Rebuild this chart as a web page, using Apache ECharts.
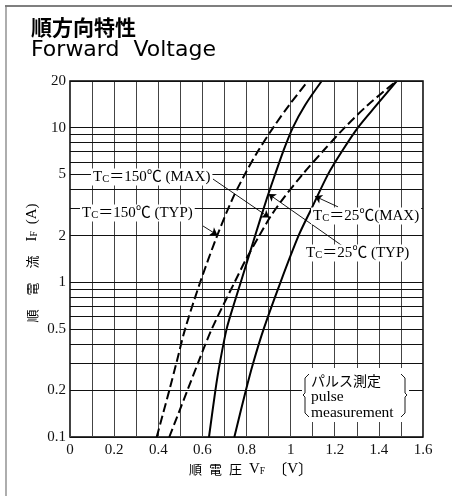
<!DOCTYPE html>
<html>
<head>
<meta charset="utf-8">
<script src="https://cdn.jsdelivr.net/npm/echarts@6/dist/echarts.min.js"></script>
<style>
  html, body { margin: 0; padding: 0; background: #fff; }
  #chart { width: 452px; height: 496px; }
</style>
</head>
<body>
<div id="chart"></div>
<script>
// Forward voltage VF [V] against forward current IF [A]
const tc150TypV = [0.393, 0.450, 0.482, 0.522, 0.590, 0.667, 0.734, 0.793, 0.851, 0.921, 0.994, 1.079];
const tc150TypI = [0.1, 0.2, 0.3, 0.5, 1, 2, 3.4, 5, 7, 10, 14, 20];

const tc150MaxV = [0.450, 0.532, 0.580, 0.643, 0.746, 0.797, 0.858, 0.908, 0.968, 1.055, 1.145, 1.245, 1.350, 1.480];
const tc150MaxI = [0.1, 0.2, 0.3, 0.5, 1, 1.4, 2, 2.65, 3.5, 5, 7, 10, 14, 20];

const tc25TypV = [0.630, 0.659, 0.679, 0.710, 0.740, 0.774, 0.839, 0.890, 0.930, 0.966, 1.010, 1.066, 1.141];
const tc25TypI = [0.1, 0.2, 0.3, 0.5, 0.7, 1, 2, 3.4, 5, 7, 10, 14, 20];

const tc25MaxV = [0.745, 0.797, 0.830, 0.878, 0.954, 1.036, 1.095, 1.170, 1.232, 1.305, 1.390, 1.481];
const tc25MaxI = [0.1, 0.2, 0.3, 0.5, 1, 2, 3, 5, 7, 10, 14, 20];

// Current axis: ruled lines and the values that carry a label
const yGridValues = [0.1, 0.2, 0.3, 0.4, 0.5, 0.6, 0.7, 0.8, 0.9, 1, 2, 3, 4, 5, 6, 7, 8, 9, 10, 20];
const yTickLabels = [0.1, 0.2, 0.5, 1, 2, 5, 10, 20];

// Leader lines from the curve captions to the curves: [VF, IF] start -> end
const leaders = [
  [[0.648, 4.65], [0.903, 2.62]],   // Tc=150°C (MAX)
  [[0.603, 2.31], [0.668, 2.02]],   // Tc=150°C (TYP)
  [[1.215, 3.07], [1.110, 3.60]],   // Tc=25°C (MAX)
  [[1.242, 1.69], [0.900, 3.72]]    // Tc=25°C (TYP)
];

const SERIF = '"Liberation Serif", "Times New Roman", "Noto Sans CJK JP", serif';
const CJK = '"Noto Sans CJK JP", sans-serif';

const pairs = (vs, is) => vs.map((v, i) => [v, is[i]]);

const chart = echarts.init(document.getElementById('chart'), null, { renderer: 'canvas' });

function curve(name, vs, is, dashed) {
  return {
    name: name,
    type: 'line',
    z: 3,
    data: pairs(vs, is),
    showSymbol: false,
    smooth: 0.3,
    silent: true,
    clip: true,
    lineStyle: { color: '#000', width: 2, type: dashed ? [9, 4] : 'solid' }
  };
}

const captionRich = {
  n: { fontSize: 15, fontFamily: SERIF, color: '#000' },
  s: { fontSize: 10.5, fontFamily: SERIF, color: '#000', verticalAlign: 'bottom' }
};

function caption(text, x, y) {
  return {
    type: 'text', x: x, y: y, z: 10,
    style: {
      text: text, rich: captionRich, fill: '#000',
      font: '15px ' + SERIF,
      align: 'left', verticalAlign: 'middle',
      backgroundColor: '#fff', padding: [1, 2, 1, 2]
    }
  };
}

const axisTitleRich = {
  t: { fontSize: 14, fontFamily: SERIF, color: '#000' },
  k: { fontSize: 13, fontFamily: CJK, color: '#000' },
  b: { fontSize: 15, fontFamily: CJK, color: '#000' },
  v: { fontSize: 15, fontFamily: SERIF, color: '#000' },
  s: { fontSize: 9.5, fontFamily: SERIF, color: '#000', verticalAlign: 'bottom' }
};

const option = {
  animation: false,
  backgroundColor: '#fff',
  grid: { left: 70, top: 81, right: 29, bottom: 59, show: true, borderColor: '#000', borderWidth: 1.5, backgroundColor: 'transparent' },
  xAxis: {
    type: 'value', min: 0, max: 1.6, interval: 0.2,
    axisLine: { show: false }, axisTick: { show: false },
    axisLabel: { margin: 6, fontSize: 15, fontFamily: SERIF, color: '#111' },
    splitLine: { show: true, lineStyle: { color: '#444', width: 1 } },
    minorTick: { show: false, splitNumber: 2 },
    minorSplitLine: { show: true, lineStyle: { color: '#444', width: 1 } }
  },
  yAxis: {
    type: 'log', logBase: 10, min: 0.1, max: 20,
    axisLine: { show: false }, axisTick: { show: false },
    axisLabel: { show: false },
    splitLine: { show: false }
  },
  series: [
    {
      name: 'grid',
      type: 'line',
      z: 1,
      data: [],
      silent: true,
      markLine: {
        silent: true,
        symbol: 'none',
        animation: false,
        lineStyle: { color: '#111', width: 1, type: 'solid' },
        label: { show: false },
        data: yGridValues.map(v => ({
          yAxis: v,
          label: {
            show: yTickLabels.includes(v),
            position: 'start',
            distance: 4,
            formatter: String(v),
            fontSize: 15, fontFamily: SERIF, color: '#111'
          }
        }))
      }
    },
    curve('Tc=150℃ (TYP)', tc150TypV, tc150TypI, true),
    curve('Tc=150℃ (MAX)', tc150MaxV, tc150MaxI, true),
    curve('Tc=25℃ (TYP)', tc25TypV, tc25TypI, false),
    curve('Tc=25℃ (MAX)', tc25MaxV, tc25MaxI, false),
    {
      name: 'leaders',
      type: 'line',
      z: 4,
      data: [],
      silent: true,
      markLine: {
        silent: true,
        animation: false,
        symbol: ['none', 'arrow'],
        symbolSize: 7,
        label: { show: false },
        lineStyle: { color: '#000', width: 0.9, type: 'solid' },
        data: leaders.map(([a, b]) => [{ coord: a }, { coord: b }])
      }
    }
  ],
  graphic: [
    // page frame
    { type: 'line', z: 0, shape: { x1: 5, y1: 6, x2: 452, y2: 6 }, style: { stroke: '#555', lineWidth: 1.5 } },
    { type: 'line', z: 0, shape: { x1: 6, y1: 6, x2: 6, y2: 496 }, style: { stroke: '#777', lineWidth: 1.2 } },
    // heading
    { type: 'text', x: 31, y: 17, z: 10, style: { text: '順方向特性', font: 'bold 21px ' + CJK, fill: '#000' } },
    { type: 'text', x: 31, y: 39, z: 10, style: { text: 'Forward  Voltage', font: '22px "DejaVu Sans", sans-serif', fill: '#000' } },
    // axis titles
    {
      type: 'text', x: 251, y: 469, z: 10,
      style: {
        text: '{k|順}{t|  }{k|電}{t|  }{k|圧}{t|  }{v|V}{s|F}{t|  }{b|〔}{v|V}{b|〕}',
        align: 'center', verticalAlign: 'middle',
        rich: axisTitleRich
      }
    },
    {
      type: 'text', x: 32, y: 263, z: 10, rotation: Math.PI / 2,
      style: {
        text: '{k|順}{t|　}{k|電}{t|　}{k|流}{t|　}{v|I}{s|F}{t|  }{v|(A)}',
        align: 'center', verticalAlign: 'middle',
        rich: axisTitleRich
      }
    },
    // curve captions
    caption('{n|T}{s|C}{n|＝150℃ (MAX)}', 91, 177),
    caption('{n|T}{s|C}{n|＝150℃ (TYP)}', 80, 213),
    caption('{n|T}{s|C}{n|＝25℃(MAX)}', 311, 216),
    caption('{n|T}{s|C}{n|＝25℃ (TYP)}', 304, 253),
    // measurement note
    { type: 'rect', z: 10, shape: { x: 302, y: 368, width: 107, height: 54 }, style: { fill: '#fff' } },
    { type: 'polyline', z: 11, shape: { points: [[309, 374], [305, 378], [305, 393], [303, 395], [305, 397], [305, 413], [309, 417]] }, style: { stroke: '#000', lineWidth: 0.9, fill: null } },
    { type: 'polyline', z: 11, shape: { points: [[401, 374], [405, 378], [405, 393], [407, 395], [405, 397], [405, 413], [401, 417]] }, style: { stroke: '#000', lineWidth: 0.9, fill: null } },
    { type: 'text', x: 311, y: 381, z: 11, style: { text: 'パルス測定', font: '14px ' + CJK, fill: '#000', verticalAlign: 'middle' } },
    { type: 'text', x: 311, y: 397, z: 11, style: { text: 'pulse', font: '15.5px ' + SERIF, fill: '#000', verticalAlign: 'middle' } },
    { type: 'text', x: 311, y: 413, z: 11, style: { text: 'measurement', font: '15.5px ' + SERIF, fill: '#000', verticalAlign: 'middle' } }
  ]
};

chart.setOption(option);
</script>
</body>
</html>
